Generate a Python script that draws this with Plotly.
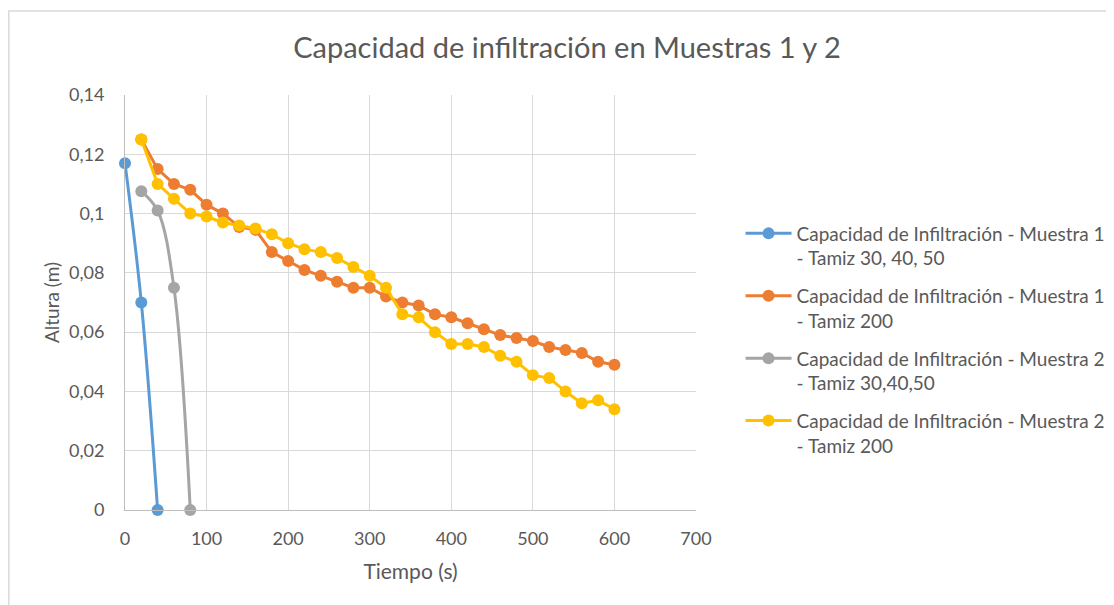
import plotly.graph_objects as go

# Data
m1_t30_x = [0, 20, 40]
m1_t30_y = [0.117, 0.070, 0.0]

m2_t30_x = [20, 40, 60, 80]
m2_t30_y = [0.1075, 0.101, 0.075, 0.0]

t200_x = [20, 40, 60, 80, 100, 120, 140, 160, 180, 200, 220, 240, 260, 280, 300,
          320, 340, 360, 380, 400, 420, 440, 460, 480, 500, 520, 540, 560, 580, 600]
m1_t200_y = [0.125, 0.115, 0.110, 0.108, 0.103, 0.100, 0.0955, 0.0945, 0.087, 0.084,
             0.081, 0.079, 0.077, 0.075, 0.075, 0.072, 0.070, 0.069, 0.066, 0.065,
             0.063, 0.061, 0.059, 0.058, 0.057, 0.055, 0.054, 0.053, 0.050, 0.049]
m2_t200_y = [0.125, 0.110, 0.105, 0.100, 0.099, 0.097, 0.096, 0.095, 0.093, 0.090,
             0.088, 0.087, 0.085, 0.082, 0.079, 0.075, 0.066, 0.065, 0.060, 0.056,
             0.056, 0.055, 0.052, 0.050, 0.0455, 0.0445, 0.040, 0.036, 0.037, 0.034]

names = [
    "Capacidad de Infiltración - Muestra 1<br>- Tamiz 30, 40, 50",
    "Capacidad de Infiltración - Muestra 1<br>- Tamiz 200",
    "Capacidad de Infiltración - Muestra 2<br>- Tamiz 30,40,50",
    "Capacidad de Infiltración - Muestra 2<br>- Tamiz 200",
]
colors = ["#5B9BD5", "#ED7D31", "#A5A5A5", "#FFC000"]
series = [
    (m1_t30_x, m1_t30_y, "spline"),
    (t200_x, m1_t200_y, "linear"),
    (m2_t30_x, m2_t30_y, "spline"),
    (t200_x, m2_t200_y, "linear"),
]

FONT = "Lato"
TXT = "#595959"

L, T, PW, PH = 117, 87, 575, 415

fig = go.Figure()
for i, ((xs, ys, shape), name, col) in enumerate(zip(series, names, colors)):
    fig.add_trace(go.Scatter(
        x=xs, y=ys, name=name, mode="lines+markers",
        line=dict(color=col, width=3, shape=shape, smoothing=1.0),
        marker=dict(color=col, size=12),
        cliponaxis=False, legendgroup=str(i),
    ))

fig.update_layout(
    width=1114, height=605,
    margin=dict(l=L, r=1114 - L - PW, t=T, b=605 - T - PH),
    paper_bgcolor="white", plot_bgcolor="white",
    separators=",.",
    font=dict(family=FONT, color=TXT, size=18),
    title=dict(text="Capacidad de infiltración en Muestras 1 y 2",
               x=559 / 1114, xref="container", xanchor="center",
               y=1 - 40 / 605, yref="container", yanchor="middle",
               font=dict(size=29, color=TXT, family=FONT)),
    showlegend=True,
    legend=dict(x=1.078, y=0.712, xanchor="left", yanchor="top",
                font=dict(size=19, color=TXT, family=FONT),
                tracegroupgap=10, valign="top", itemwidth=46,
                bgcolor="rgba(0,0,0,0)"),
    xaxis=dict(range=[0, 700], dtick=100, tick0=0,
               showgrid=True, gridcolor="#D9D9D9", gridwidth=1,
               showline=True, linecolor="#BFBFBF", linewidth=1,
               zeroline=False, ticks="", ticklabelstandoff=12,
               tickfont=dict(size=18, color=TXT),
               title=dict(text="Tiempo (s)", font=dict(size=21, color=TXT), standoff=16)),
    yaxis=dict(range=[0, 0.14], dtick=0.02, tick0=0,
               showgrid=True, gridcolor="#D9D9D9", gridwidth=1,
               showline=True, linecolor="#BFBFBF", linewidth=1,
               zeroline=False, ticks="", ticklabelstandoff=16,
               tickfont=dict(size=18, color=TXT),
               title=dict(text="Altura (m)", font=dict(size=19, color=TXT), standoff=4)),
    shapes=[dict(type="rect", xref="paper", yref="paper",
                 x0=(0 - L) / PW, x1=(1130 - L) / PW,
                 y0=(T + PH - 620) / PH, y1=(T + PH - 3) / PH,
                 line=dict(color="#D9D9D9", width=1.5), layer="below")],
)

fig.write_html("out.html")
